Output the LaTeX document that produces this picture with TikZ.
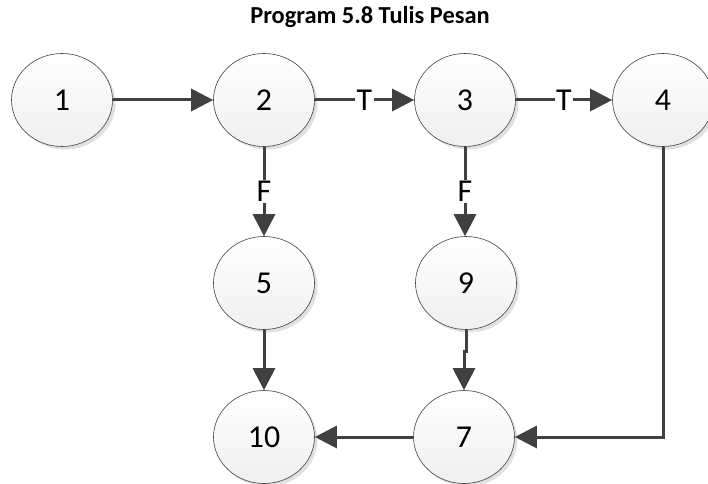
\documentclass[tikz,border=0pt]{standalone}
\usepackage{fontspec}
\setmainfont{Carlito}
\usetikzlibrary{shapes.geometric,arrows.meta,shadows}
\begin{document}
\begin{tikzpicture}[x=1bp,y=-1bp,
  state/.style={ellipse, draw=black!75, line width=0.6bp, minimum width=101bp, minimum height=93bp, inner sep=0pt,
    top color=white, bottom color=gray!12,
    drop shadow={shadow xshift=3bp, shadow yshift=-3bp, fill=gray!40, opacity=0.6},
    font=\fontsize{32}{36}\selectfont},
  conn/.style={line width=3bp, draw=black!75, -{Triangle[length=22bp,width=22bp]}},
  lbl/.style={fill=white, inner sep=1.5bp, font=\fontsize{32}{36}\selectfont}]
\useasboundingbox (0,0) rectangle (708,484);
\node[font=\bfseries\fontsize{24.5}{28}\selectfont] (title) at (370,17) {Program 5.8 Tulis Pesan};
\node[state] (n1) at (62,100) {1};
\node[state] (n2) at (264,100) {2};
\node[state] (n3) at (465,100) {3};
\node[state] (n4) at (663,100) {4};
\node[state] (n5) at (264,283) {5};
\node[state] (n9) at (466,283) {9};
\node[state] (n10) at (264,437) {10};
\node[state] (n7) at (464,437) {7};
\draw[conn] (n1) -- (n2);
\draw[conn] (n2) -- node[lbl]{T} (n3);
\draw[conn] (n3) -- node[lbl]{T} (n4);
\draw[conn] (n2) -- node[lbl]{F} (n5);
\draw[conn] (n3.south) -- node[lbl]{F} (n3.south |- n9.north);
\draw[conn] (n5) -- (n10);
\draw[conn] (n9.south) -- ++(0,22) -| (n7.north);
\draw[conn] (n4.south) |- (n7.east);
\draw[conn] (n7) -- (n10);
\end{tikzpicture}
\end{document}
